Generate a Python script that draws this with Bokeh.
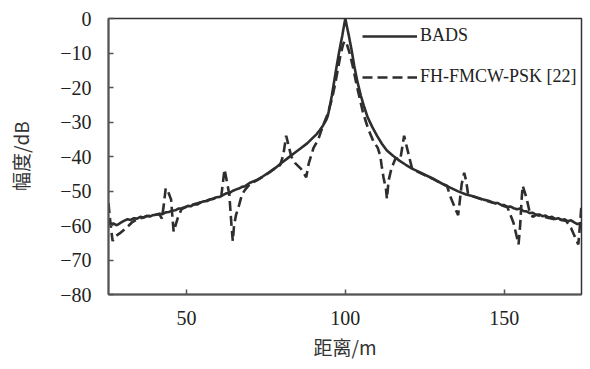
from bokeh.plotting import figure
from bokeh.models import Range1d, FixedTicker, CustomJSTickFormatter, Legend, LegendItem
from bokeh.embed import file_html
from bokeh.resources import INLINE

# ---- data ----
x_ticks = [50, 100, 150]
y_ticks = [-80, -70, -60, -50, -40, -30, -20, -10, 0]

bads_x = [25.5, 26, 27, 28, 28.5, 29.5, 30.5, 31.5, 32.5, 33.5, 34.5, 35.5, 36.5, 37.5,
          38.5, 39.5, 40.5, 41.5, 42.5, 43.5, 44.5, 45.5, 46.5, 47.5, 48.5, 49.5, 50.5,
          51.5, 52.5, 53.5, 54.5, 55.5, 56.5, 57.5, 58.5, 59.5, 60.5, 61.5, 62.5, 63.5,
          64.5, 65.5, 66.5, 67.5, 68.5, 70, 72, 74, 76, 78, 80, 82, 84, 86, 88, 90, 91,
          92, 93, 94, 94.5, 95, 95.75, 96.5, 97.3, 98, 98.5, 99.06, 99.5, 100, 100.5,
          101.1, 102, 102.8, 103.8, 104.9, 106, 107, 108.5, 110, 111.5, 113, 115, 117,
          119, 121, 123, 125, 128, 130.5, 133, 135.5, 138, 140.5, 143.5, 145, 146.5, 148,
          149, 150, 151, 152, 153, 154, 155, 156, 157, 158, 159, 160, 161, 162, 163, 164,
          165, 166, 167, 168, 169, 170, 171, 172, 173, 174, 174.3]
bads_y = [-59.2, -59.6, -59.4, -59.9, -59.7, -59.1, -58.6, -58.2, -58.4, -57.9, -58.0,
          -57.5, -57.7, -57.2, -57.4, -57.0, -56.9, -56.6, -56.7, -56.2, -56.1, -55.7,
          -55.6, -55.1, -55.0, -54.7, -54.3, -54.4, -53.8, -53.9, -53.3, -53.0, -52.9,
          -52.4, -52.3, -51.8, -51.7, -51.2, -50.7, -50.6, -50.0, -49.6, -49.3, -48.8,
          -48.6, -47.6, -46.9, -45.8, -44.6, -43.3, -41.8, -40.4, -39.0, -37.6, -36.2,
          -34.4, -33.5, -32.3, -31.0, -29.4, -28.2, -26.0, -22.4, -18.2, -13.7, -10.0,
          -7.5, -4.9, -2.5, 0.0, -2.3, -4.9, -9.3, -13.7, -18.3, -22.4, -25.8, -28.6,
          -31.5, -34.0, -36.3, -38.2, -39.8, -41.2, -42.4, -43.5, -44.4, -45.3, -46.6,
          -47.9, -49.0, -50.1, -51.0, -51.6, -52.5, -52.8, -53.4, -53.5, -54.0, -54.1,
          -54.6, -54.5, -55.0, -55.3, -55.1, -55.8, -55.9, -56.4, -56.3, -56.9, -56.8,
          -57.3, -57.1, -57.7, -57.5, -58.1, -57.9, -58.4, -58.2, -58.8, -58.5, -59.1,
          -59.6, -59.3, -59.7]

fh_x = [25.5, 25.8, 26.3, 26.8, 27.5, 29, 31, 33, 34.5, 36, 37.5, 39, 40.5, 41.5, 42.3,
        42.9, 43.5, 44.3, 45.2, 45.6, 46.0, 47.3, 48.5, 50, 52, 54, 56, 58, 60, 61, 61.5,
        62, 62.8, 63.5, 64.2, 64.6, 65.0, 65.6, 66.6, 67.5, 68.5, 70, 72, 74, 76, 78,
        79.5, 80.5, 81.4, 82.2, 83, 84.3, 86, 87.7, 88.5, 90, 91.5, 93, 94.5, 95.75, 96.8,
        97.5, 98.5, 99.3, 99.8, 100.4, 101.5, 102.5, 103.5, 104.5, 105.5, 106.5, 107.2,
        108.8, 110.2, 111, 111.4, 112, 112.8, 113.1, 113.6, 114.5, 115.8, 117.3, 118.5,
        119.8, 121, 123, 125, 128, 130.5, 132, 133, 134.9, 135.5, 136, 136.6, 137.4, 138,
        138.6, 140.5, 143.5, 146.5, 149, 151, 152.9, 154.5, 155, 155.5, 155.8, 157, 158,
        159, 160, 162, 164, 166, 168, 169.5, 171, 173.3, 173.8, 174.3]
fh_y = [-53.5, -56.5, -61.0, -64.5, -63.2, -62.3, -60.8, -59.0, -58.2, -57.8, -57.3, -57.1,
        -56.8, -56.7, -58.0, -54.0, -49.2, -50.3, -52.5, -57.5, -61.8, -57.8, -55.2, -54.6,
        -54.0, -53.4, -52.9, -52.3, -51.7, -51.4, -47.5, -43.7, -47.5, -51.0, -60.0, -64.5,
        -60.0, -57.0, -54.0, -51.0, -49.6, -48.0, -47.0, -45.9, -44.7, -43.4, -42.5, -39.5,
        -34.0, -37.0, -40.0, -42.0, -43.5, -46.0, -42.0, -37.5, -35.0, -31.0, -27.5, -23.5,
        -19.0, -15.5, -10.5, -7.5, -6.5, -7.2, -10.5, -14.5, -19.0, -23.0, -27.0, -30.0,
        -32.0, -35.5, -37.5, -39.8, -42.5, -46.0, -49.5, -52.3, -47.0, -43.5, -40.5, -40.8,
        -34.0, -39.0, -43.5, -44.5, -45.4, -46.7, -48.0, -48.5, -51.5, -55.8, -57.0, -53.0,
        -48.0, -44.7, -47.0, -50.8, -51.7, -52.6, -53.4, -54.1, -54.7, -59.2, -65.5, -60.0,
        -52.0, -48.5, -52.0, -56.2, -57.5, -56.9, -57.4, -57.8, -58.2, -58.4, -58.7, -60.7,
        -65.5, -60.0, -54.0]

series_labels = ["BADS", "FH-FMCW-PSK [22]"]
x_title = "距离/m"
y_title = "幅度/dB"

# ---- figure ----
LINE = "#2e2e2e"
SERIF = "Liberation Serif"
CJK = "Noto Sans CJK SC"

p = figure(width=590, height=369, output_backend="svg", toolbar_location=None,
           x_range=Range1d(25.5, 174.3), y_range=Range1d(-80, 0),
           min_border_left=108, min_border_right=9, min_border_top=18, min_border_bottom=75,
           background_fill_color="white", border_fill_color="white")

p.xgrid.visible = False
p.ygrid.visible = False
p.outline_line_color = "#333333"
p.outline_line_width = 1.5

r1 = p.line(bads_x, bads_y, line_color=LINE, line_width=2.6, line_join="round")
r2 = p.line(fh_x, fh_y, line_color=LINE, line_width=2.6, line_dash="10 5")

for ax in (p.xaxis[0], p.yaxis[0]):
    ax.axis_line_color = "#555555"
    ax.axis_line_width = 2
    ax.major_tick_line_color = "#555555"
    ax.major_tick_line_width = 1.5
    ax.major_tick_in = 5
    ax.major_tick_out = 0
    ax.minor_tick_line_color = None
    ax.major_label_text_font = SERIF
    ax.major_label_text_font_size = "20px"
    ax.major_label_text_color = "#222222"
    ax.axis_label_text_font = CJK
    ax.axis_label_text_font_size = "19px"
    ax.axis_label_text_font_style = "normal"
    ax.axis_label_text_color = "#333333"

p.xaxis.ticker = FixedTicker(ticks=x_ticks)
p.yaxis.ticker = FixedTicker(ticks=y_ticks)
p.yaxis.formatter = CustomJSTickFormatter(
    code="return tick < 0 ? '\u2212' + Math.abs(tick) : String(tick);")
p.xaxis.major_label_standoff = 16
p.yaxis.major_label_standoff = 17
p.xaxis.axis_label = x_title
p.yaxis.axis_label = y_title
p.xaxis.axis_label_standoff = 5
p.yaxis.axis_label_standoff = 23

legend = Legend(items=[LegendItem(label=series_labels[0], renderers=[r1]),
                       LegendItem(label=series_labels[1], renderers=[r2])],
                location=(254, 207), glyph_width=55, glyph_height=20, label_height=20,
                spacing=20, padding=0, margin=0, label_standoff=3,
                background_fill_alpha=0, border_line_alpha=0,
                label_text_font=SERIF, label_text_font_size="18px",
                label_text_color="#222222")
p.add_layout(legend)

open("out.html", "w").write(file_html(p, INLINE))
